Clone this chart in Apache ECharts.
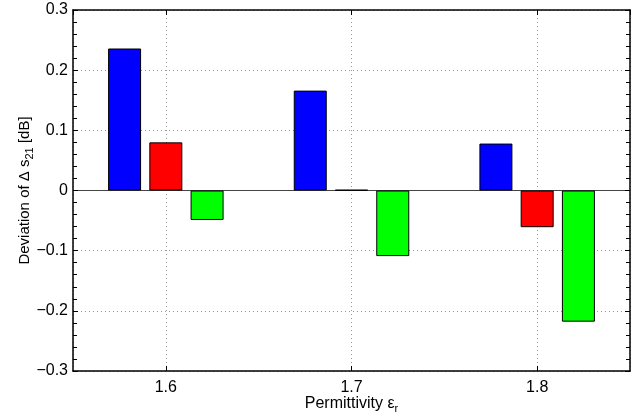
<!DOCTYPE html>
<html>
<head>
<meta charset="utf-8">
<script src="https://cdn.jsdelivr.net/npm/echarts@6/dist/echarts.min.js"></script>
<style>
    html, body { margin: 0; padding: 0; background: #fff; }
    #chart { width: 633px; height: 420px; }
</style>
</head>
<body>
<div id="chart"></div>
<script>
// permittivity values (one group of bars each)
const categories = ["1.6", "1.7", "1.8"];
// deviation of delta s21 in dB, one array per bar colour
const blueValues = [0.236, 0.166, 0.078];
const redValues = [0.080, 0.001, -0.061];
const greenValues = [-0.049, -0.109, -0.218];
// axis ranges
const xRange = [1.55, 1.85];
const yRange = [-0.3, 0.3];
const yStep = 0.1;

const FONT = "Liberation Sans";
const frameLine = { show: true, onZero: false, lineStyle: { color: "#000", width: 1.5 } };
const inTick = { show: true, inside: true, length: 5, lineStyle: { color: "#000", width: 1 } };
const inMinor = { show: true, splitNumber: 5, length: 4, lineStyle: { color: "#000", width: 1 } };
const dotGrid = { show: true, lineStyle: { color: "#999", width: 1, type: [1, 3] } };

// matlab style minus sign
const fmtY = (v) => {
    if (Math.abs(v) < 1e-9) return "0";
    return v < 0 ? "\u2212" + Math.abs(v).toFixed(1) : v.toFixed(1);
};

const barCommon = {
    type: "bar",
    xAxisIndex: 2,
    yAxisIndex: 0,
    barWidth: 33,
    barGap: "25%",
    emphasis: { disabled: true }
};

const chart = echarts.init(document.getElementById("chart"));
chart.setOption({
    animation: false,
    textStyle: { fontFamily: FONT },
    grid: { left: 73, right: 3, top: 10, bottom: 49, containLabel: false, outerBoundsMode: "none" },
    xAxis: [
        {
            type: "value",
            position: "bottom",
            min: xRange[0],
            max: xRange[1],
            splitNumber: 3,
            axisLine: frameLine,
            axisTick: inTick,
            splitLine: dotGrid,
            axisLabel: {
                color: "#000", fontSize: 16, margin: 9,
                showMinLabel: false, showMaxLabel: false,
                formatter: (v) => v.toFixed(1)
            },
            name: "Permittivity {eps|\u03b5}{sub|r}",
            nameLocation: "middle",
            nameGap: 22,
            nameMoveOverlap: false,
            nameTextStyle: {
                color: "#000", fontSize: 16, fontFamily: FONT,
                rich: {
                    eps: { fontSize: 16, fontFamily: FONT, color: "#000" },
                    sub: { fontSize: 11, fontFamily: FONT, color: "#000", padding: [10, 0, 0, 0] }
                }
            }
        },
        {
            type: "value",
            position: "top",
            min: xRange[0],
            max: xRange[1],
            splitNumber: 3,
            axisLine: frameLine,
            axisTick: inTick,
            splitLine: { show: false },
            axisLabel: { show: false }
        },
        {
            // hidden category axis that places the bar groups, its line is the zero line
            type: "category",
            position: "bottom",
            data: categories,
            boundaryGap: true,
            axisLine: { show: true, onZero: true, lineStyle: { color: "#444", width: 1 } },
            axisTick: { show: false },
            axisLabel: { show: false },
            splitLine: { show: false }
        }
    ],
    yAxis: [
        {
            type: "value",
            position: "left",
            min: yRange[0],
            max: yRange[1],
            interval: yStep,
            axisLine: frameLine,
            axisTick: inTick,
            minorTick: inMinor,
            splitLine: dotGrid,
            axisLabel: { color: "#000", fontSize: 16, margin: 5, formatter: fmtY },
            name: "Deviation of \u0394 s{sub|21} [dB]",
            nameLocation: "middle",
            nameRotate: 90,
            nameGap: 38,
            nameMoveOverlap: false,
            nameTextStyle: {
                color: "#000", fontSize: 15, fontFamily: FONT,
                rich: {
                    sub: { fontSize: 11, fontFamily: FONT, color: "#000", padding: [10, 0, 0, 0] }
                }
            }
        },
        {
            type: "value",
            position: "right",
            min: yRange[0],
            max: yRange[1],
            interval: yStep,
            axisLine: frameLine,
            axisTick: inTick,
            minorTick: inMinor,
            splitLine: { show: false },
            axisLabel: { show: false }
        }
    ],
    series: [
        Object.assign({ name: "blue", data: blueValues }, barCommon, { itemStyle: { color: "#0000ff", borderColor: "#000", borderWidth: 1 } }),
        Object.assign({ name: "red", data: redValues }, barCommon, { itemStyle: { color: "#ff0000", borderColor: "#000", borderWidth: 1 } }),
        Object.assign({ name: "green", data: greenValues }, barCommon, { itemStyle: { color: "#00ff00", borderColor: "#000", borderWidth: 1 } })
    ]
});
</script>
</body>
</html>
